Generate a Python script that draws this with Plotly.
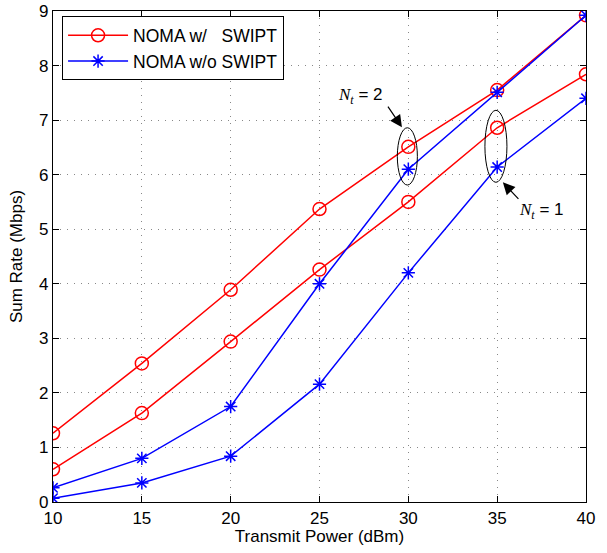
import plotly.graph_objects as go

power = [10, 15, 20, 25, 30, 35, 40]
swipt_nt2 = [1.26, 2.54, 3.89, 5.37, 6.51, 7.55, 8.92]
swipt_nt1 = [0.60, 1.63, 2.94, 4.26, 5.50, 6.86, 7.84]
noswipt_nt2 = [0.26, 0.80, 1.75, 4.00, 6.10, 7.51, 8.92]
noswipt_nt1 = [0.07, 0.35, 0.84, 2.16, 4.20, 6.14, 7.40]

FONT = "Liberation Sans, Arial, sans-serif"
fig = go.Figure()

def add(y, color, symbol, size, name, show):
    fig.add_trace(go.Scatter(
        x=power, y=y, mode="lines+markers", name=name, showlegend=show,
        legendgroup=name,
        line=dict(color=color, width=1.5),
        marker=dict(symbol=symbol, size=size, color=color,
                    line=dict(color=color, width=1.5)),
    ))

add(swipt_nt2, "#ff0000", "circle-open", 13, "NOMA w/   SWIPT", True)
add(swipt_nt1, "#ff0000", "circle-open", 13, "NOMA w/   SWIPT", False)
add(noswipt_nt2, "#0000ff", "asterisk-open", 11, "NOMA w/o SWIPT", True)
add(noswipt_nt1, "#0000ff", "asterisk-open", 11, "NOMA w/o SWIPT", False)

# ellipses
fig.add_shape(type="circle", xref="x", yref="y", x0=29.38, x1=30.51, y0=5.81, y1=6.86,
              line=dict(color="black", width=1))
fig.add_shape(type="circle", xref="x", yref="y", x0=34.31, x1=35.55, y0=5.86, y1=7.18,
              line=dict(color="black", width=1))

lab = '<span style="font-family:Liberation Serif, Times New Roman, serif"><i>N<sub>t</sub></i></span> = %d'
fig.add_annotation(x=27.28, y=7.45, xref="x", yref="y", text=lab % 2, showarrow=False,
                   font=dict(family=FONT, size=17, color="black"))
fig.add_annotation(x=37.52, y=5.33, xref="x", yref="y", text=lab % 1, showarrow=False,
                   font=dict(family=FONT, size=17, color="black"))
fig.add_annotation(x=29.64, y=6.87, xref="x", yref="y", text="", showarrow=True,
                   arrowhead=2, arrowsize=2, arrowwidth=1.2, arrowcolor="black",
                   ax=-15, ay=-22)
fig.add_annotation(x=35.32, y=5.86, xref="x", yref="y", text="", showarrow=True,
                   arrowhead=2, arrowsize=2, arrowwidth=1.2, arrowcolor="black",
                   ax=17, ay=18)

axis_common = dict(showline=True, linecolor="black", linewidth=1.2, mirror="ticks",
                   ticks="inside", ticklen=6, tickcolor="black", automargin=False,
                   showgrid=True, gridcolor="#888888", griddash="1px,6px", gridwidth=1,
                   zeroline=False, tickfont=dict(family=FONT, size=17, color="black"))

fig.update_xaxes(range=[10, 40], dtick=5, title=dict(text="Transmit Power (dBm)", standoff=3,
                 font=dict(family=FONT, size=17, color="black")), **axis_common)
fig.update_yaxes(range=[0, 9], dtick=1, title=dict(text="Sum Rate (Mbps)", standoff=12,
                 font=dict(family=FONT, size=17, color="black")), **axis_common)

fig.update_layout(
    width=607, height=553,
    margin=dict(l=53, r=21, t=11, b=51),
    paper_bgcolor="white", plot_bgcolor="white",
    legend=dict(x=0.017, y=0.989, xanchor="left", yanchor="top",
                bgcolor="white", bordercolor="black", borderwidth=1,
                font=dict(family=FONT, size=17.5, color="black"),
                tracegroupgap=0, itemwidth=60),
    showlegend=True,
)

fig.write_html("out.html")
